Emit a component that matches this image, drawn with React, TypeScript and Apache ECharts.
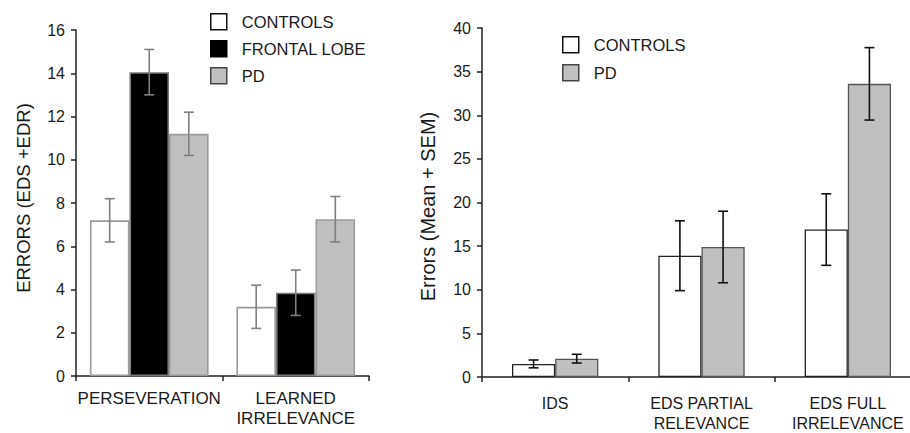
import React, { useEffect, useRef } from "react";
import * as echarts from "echarts";

const FONT = "Liberation Sans, Arial, sans-serif";

// Left panel data
const leftCategories = ["PERSEVERATION", "LEARNED\nIRRELEVANCE"];
const leftGroupNames = ["CONTROLS", "FRONTAL LOBE", "PD"];
const leftControls = [7.2, 3.2];
const leftFrontal = [14.05, 3.85];
const leftPD = [11.2, 7.25];
const leftControlsSem = [1.0, 1.0];
const leftFrontalSem = [1.05, 1.05];
const leftPDSem = [1.0, 1.05];
const leftAxisMin = 0;
const leftAxisMax = 16;
const leftAxisStep = 2;

// Right panel data
const rightCategories = ["IDS", "EDS PARTIAL\nRELEVANCE", "EDS FULL\nIRRELEVANCE"];
const rightGroupNames = ["CONTROLS", "PD"];
const rightControls = [1.5, 13.9, 16.9];
const rightPD = [2.1, 14.9, 33.6];
const rightControlsSem = [0.45, 4.0, 4.1];
const rightPDSem = [0.5, 4.1, 4.15];
const rightAxisMin = 0;
const rightAxisMax = 40;
const rightAxisStep = 5;

function errorSeries(
  id: string,
  means: number[],
  sems: number[],
  idx: number,
  n: number,
  gap: number,
  color: string,
  axisIndex: number
) {
  return {
    type: "custom",
    id,
    xAxisIndex: axisIndex,
    yAxisIndex: axisIndex,
    z: 10,
    silent: true,
    encode: { x: 0, y: 1 },
    data: means.map((m, i) => [i, m, sems[i]]),
    renderItem: (params: any, api: any) => {
      const c = api.value(0);
      const m = api.value(1);
      const s = api.value(2);
      const band = api.size([1, 0])[0];
      const bw = (band * (1 - gap)) / n;
      const x = api.coord([c, m])[0] + (idx - (n - 1) / 2) * bw;
      const yTop = api.coord([c, m + s])[1];
      const yBot = api.coord([c, m - s])[1];
      const hw = 5;
      const style = { stroke: color, lineWidth: 1.6 };
      return {
        type: "group",
        children: [
          { type: "line", shape: { x1: x, y1: yTop, x2: x, y2: yBot }, style },
          { type: "line", shape: { x1: x - hw, y1: yTop, x2: x + hw, y2: yTop }, style },
          { type: "line", shape: { x1: x - hw, y1: yBot, x2: x + hw, y2: yBot }, style },
        ],
      };
    },
  };
}

export default function App() {
  const ref = useRef<HTMLDivElement>(null);
  useEffect(() => {
    if (!ref.current) return;
    const chart = echarts.init(ref.current, undefined, { renderer: "svg" });
    const leftGap = 0.19;
    const rightGap = 0.41;
    const axisColor = "#222";
    const textColor = "#1a1a1a";
    const yAxisCommon = (min: number, max: number, interval: number) => ({
      type: "value",
      min,
      max,
      interval,
      axisLine: { show: true, lineStyle: { color: axisColor, width: 1.5 } },
      axisTick: { show: true, length: 5, lineStyle: { color: axisColor, width: 1.5 } },
      splitLine: { show: false },
      axisLabel: { fontSize: 16, color: textColor, fontFamily: FONT, margin: 11 },
      nameLocation: "middle",
      nameRotate: 90,
    });
    const xAxisCommon = {
      type: "category",
      axisLine: { show: true, lineStyle: { color: axisColor, width: 1.5 } },
      axisTick: { show: true, length: 5, lineStyle: { color: axisColor, width: 1.5 } },
    };
    chart.setOption({
      animation: false,
      backgroundColor: "#fff",
      grid: [
        { left: 76, top: 30, width: 293, height: 346, outerBoundsMode: "none", containLabel: false },
        { left: 482, top: 28, width: 439, height: 349, outerBoundsMode: "none", containLabel: false },
      ],
      xAxis: [
        {
          ...xAxisCommon,
          gridIndex: 0,
          data: leftCategories,
          axisLabel: { fontSize: 17, color: textColor, fontFamily: FONT, margin: 12, lineHeight: 20, interval: 0 },
        },
        {
          ...xAxisCommon,
          gridIndex: 1,
          data: rightCategories,
          axisLabel: { fontSize: 16, color: textColor, fontFamily: FONT, margin: 16, lineHeight: 20, interval: 0 },
        },
      ],
      yAxis: [
        {
          ...yAxisCommon(leftAxisMin, leftAxisMax, leftAxisStep),
          gridIndex: 0,
          name: "ERRORS (EDS +EDR)",
          nameGap: 43,
          nameTextStyle: { fontSize: 18.5, color: textColor, fontFamily: FONT, padding: [0, 0, 0, 10] },
        },
        {
          ...yAxisCommon(rightAxisMin, rightAxisMax, rightAxisStep),
          gridIndex: 1,
          name: "Errors (Mean + SEM)",
          nameGap: 44,
          nameTextStyle: { fontSize: 20, color: textColor, fontFamily: FONT, padding: [0, 8, 0, 0] },
        },
      ],
      legend: [
        {
          left: 210,
          top: 13,
          padding: 0,
          orient: "vertical",
          icon: "rect",
          itemWidth: 16,
          itemHeight: 16,
          itemGap: 9.5,
          selectedMode: false,
          textStyle: { fontSize: 16.5, color: textColor, fontFamily: FONT, padding: [0, 0, 0, 10] },
          data: [
            { name: leftGroupNames[0], itemStyle: { color: "#fff", borderColor: "#111", borderWidth: 1.5 } },
            { name: leftGroupNames[1], itemStyle: { color: "#000", borderColor: "#000", borderWidth: 1.5 } },
            { name: leftGroupNames[2], itemStyle: { color: "#c0c0c0", borderColor: "#444", borderWidth: 1.5 } },
          ],
        },
        {
          left: 562,
          top: 36,
          padding: 0,
          orient: "vertical",
          icon: "rect",
          itemWidth: 16,
          itemHeight: 16,
          itemGap: 10.5,
          selectedMode: false,
          textStyle: { fontSize: 16.5, color: textColor, fontFamily: FONT, padding: [0, 0, 0, 10] },
          data: [
            { name: rightGroupNames[0], itemStyle: { color: "#fff", borderColor: "#111", borderWidth: 1.5 } },
            { name: rightGroupNames[1], itemStyle: { color: "#c0c0c0", borderColor: "#444", borderWidth: 1.5 } },
          ],
        },
      ],
      series: [
        {
          type: "bar", name: leftGroupNames[0], xAxisIndex: 0, yAxisIndex: 0, data: leftControls,
          barGap: "0%", barCategoryGap: leftGap * 100 + "%",
          itemStyle: { color: "#fff", borderColor: "#9a9a9a", borderWidth: 1.6 },
        },
        {
          type: "bar", name: leftGroupNames[1], xAxisIndex: 0, yAxisIndex: 0, data: leftFrontal,
          barGap: "0%", barCategoryGap: leftGap * 100 + "%",
          itemStyle: { color: "#000", borderColor: "#7a7a7a", borderWidth: 1.6 },
        },
        {
          type: "bar", name: leftGroupNames[2], xAxisIndex: 0, yAxisIndex: 0, data: leftPD,
          barGap: "0%", barCategoryGap: leftGap * 100 + "%",
          itemStyle: { color: "#c0c0c0", borderColor: "#9a9a9a", borderWidth: 1.6 },
        },
        {
          type: "bar", name: rightGroupNames[0], xAxisIndex: 1, yAxisIndex: 1, data: rightControls,
          barGap: "0%", barCategoryGap: rightGap * 100 + "%",
          itemStyle: { color: "#fff", borderColor: "#222", borderWidth: 1.3 },
        },
        {
          type: "bar", name: rightGroupNames[1], xAxisIndex: 1, yAxisIndex: 1, data: rightPD,
          barGap: "0%", barCategoryGap: rightGap * 100 + "%",
          itemStyle: { color: "#c0c0c0", borderColor: "#555", borderWidth: 1.3 },
        },
        errorSeries("errL0", leftControls, leftControlsSem, 0, 3, leftGap, "#808080", 0),
        errorSeries("errL1", leftFrontal, leftFrontalSem, 1, 3, leftGap, "#808080", 0),
        errorSeries("errL2", leftPD, leftPDSem, 2, 3, leftGap, "#808080", 0),
        errorSeries("errR0", rightControls, rightControlsSem, 0, 2, rightGap, "#111", 1),
        errorSeries("errR1", rightPD, rightPDSem, 1, 2, rightGap, "#111", 1),
      ],
    });
    return () => chart.dispose();
  }, []);
  return (
    <div
      ref={ref}
      style={{ position: "fixed", left: 0, top: 0, width: 910, height: 433, background: "#fff" }}
    />
  );
}
